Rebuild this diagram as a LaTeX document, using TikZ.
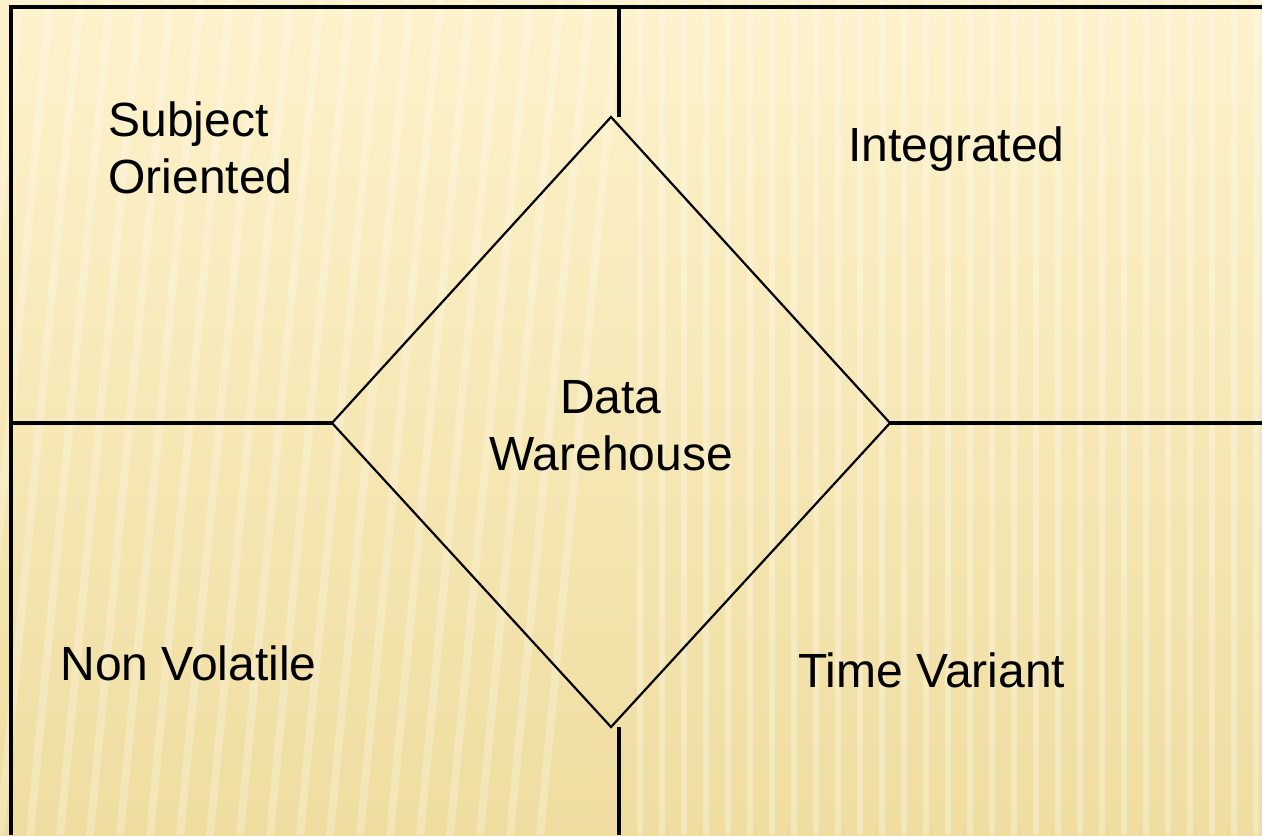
\documentclass[tikz,border=0pt]{standalone}
\usepackage{fontspec}
\setmainfont{Liberation Sans}
\definecolor{paleSand}{RGB}{253,242,204}
\definecolor{deepSand}{RGB}{239,221,160}
\tikzset{
  frameline/.style={line width=1.8pt, black},
  diamondline/.style={line width=1.1pt, black, line join=miter},
  label/.style={font=\fontsize{24}{28.5}\selectfont, inner sep=0pt, align=left}
}

\begin{document}
\begin{tikzpicture}[x=0.5pt, y=-0.5pt]
    \useasboundingbox (0,0) rectangle (1262,835);
    \shade[top color=paleSand, bottom color=deepSand] (0,0) rectangle (1262,835);
    % faint stripes of the backdrop
    \foreach \s in {0,30,...,600}
        \draw[white, opacity=0.25, line width=4pt] (\s-60,835) -- (\s+20,0);
    \foreach \s in {640,662,...,1262}
        \draw[white, opacity=0.3, line width=3pt] (\s,0) -- (\s,835);
    % frame and cross
    \coordinate (topL) at (11,7);
    \coordinate (topR) at (1262,7);
    \coordinate (botL) at (11,835);
    \coordinate (midT) at (619,7);
    \coordinate (midB) at (619,835);
    \coordinate (edgeL) at (11,423);
    \coordinate (edgeR) at (1262,423);
    % diamond corners
    \coordinate (dmTop) at (611,117);
    \coordinate (dmBot) at (611,727);
    \coordinate (dmLeft) at (332,423);
    \coordinate (dmRight) at (890,423);
    \draw[frameline] (botL) -- (topL) -- (topR);
    \draw[frameline] (midT) -- (midT |- dmTop);
    \draw[frameline] (midB) -- (midB |- dmBot);
    \draw[frameline] (edgeL) -- (dmLeft);
    \draw[frameline] (dmRight) -- (edgeR);
    \draw[diamondline] (dmTop) -- (dmRight) -- (dmBot) -- (dmLeft) -- cycle;
    % texts (base = last line)
    \node[label, anchor=base west] (subject) at (108,193) {Subject\\Oriented};
    \node[label, anchor=base west] (integrated) at (848,161) {Integrated};
    \node[label, anchor=base, align=center] (warehouse) at (611,470) {Data\\Warehouse};
    \node[label, anchor=base west] (volatile) at (60,680) {Non Volatile};
    \node[label, anchor=base west] (variant) at (798,687) {Time Variant};
\end{tikzpicture}
\end{document}
